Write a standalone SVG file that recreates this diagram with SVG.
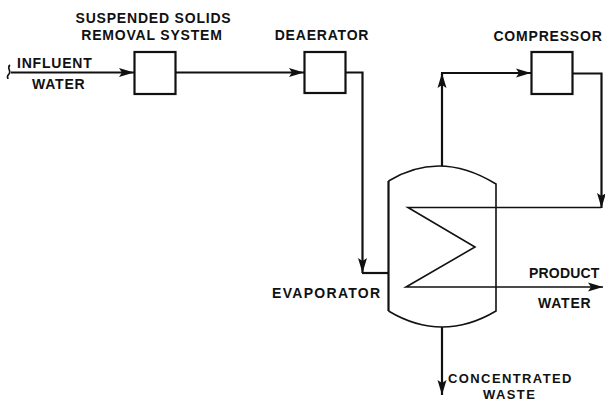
<svg xmlns="http://www.w3.org/2000/svg" width="605" height="400" viewBox="0 0 605 400">
<style>
.box{fill:#fff;stroke:#111;stroke-width:2.2}
.ln{fill:none;stroke:#111;stroke-width:2.2;stroke-linejoin:miter}
.th{fill:none;stroke:#111;stroke-width:1.6;stroke-linejoin:miter}
text{font-family:"Liberation Sans",Arial,sans-serif;font-size:14px;font-weight:bold;fill:#111;letter-spacing:.8px}
.m{text-anchor:middle}
.s{font-size:13px;letter-spacing:1.4px}
</style>
<defs>
<marker id="a" markerUnits="userSpaceOnUse" markerWidth="16" markerHeight="10" refX="15" refY="5" orient="auto"><path d="M0 .5 L15 5 L0 9.500 L3 5Z" fill="#111"/></marker>
</defs>
<rect width="605" height="400" fill="#fff"/>
<g id="connectors">
<path class="ln" d="M11 72.500H134" marker-end="url(#a)"/>
<path class="th" d="M10 65C6 68 12 71 9 74S8 78 8 79"/>
<path class="ln" d="M175 72.500H304" marker-end="url(#a)"/>
<path class="ln" d="M345 72.500H362.500V273" marker-end="url(#a)"/>
<path class="ln" d="M362 273H388"/>
<path class="ln" d="M442 166V73" marker-end="url(#a)"/>
<path class="ln" d="M441 73H531" marker-end="url(#a)"/>
<path class="ln" d="M573 73.500H601.500V208" marker-end="url(#a)"/>
<path class="th" d="M601 207.500H408L475 247L406 287H603" marker-end="url(#a)"/>
<path class="ln" d="M442 327V395" marker-end="url(#a)"/>
</g>
<g id="suspended-solids-removal-system">
<rect class="box" x="134.500" y="52" width="41" height="42"/>
<text class="m" x="153.500" y="23">SUSPENDED SOLIDS</text>
<text class="m" x="152" y="40">REMOVAL SYSTEM</text>
</g>
<g id="deaerator">
<rect class="box" x="304.500" y="52" width="41" height="41"/>
<text class="m" x="322" y="40">DEAERATOR</text>
</g>
<g id="compressor">
<rect class="box" x="531.500" y="52" width="41" height="42"/>
<text class="m" x="548" y="40.500">COMPRESSOR</text>
</g>
<g id="evaporator">
<path class="th" d="M388.500 181Q440 149.500 496 184V311Q442 343 388.500 311"/>
<path class="ln" d="M388.500 311V181" stroke-width="2.500"/>
<text x="272" y="298" style="letter-spacing:1.300px">EVAPORATOR</text>
</g>
<g id="labels">
<text x="17" y="68">INFLUENT</text>
<text x="32" y="88.500">WATER</text>
<text x="529" y="278" style="letter-spacing:.2px">PRODUCT</text>
<text x="538" y="307.500">WATER</text>
<text class="s" x="448" y="383">CONCENTRATED</text>
<text class="s" x="483" y="398.500">WASTE</text>
</g>
</svg>
